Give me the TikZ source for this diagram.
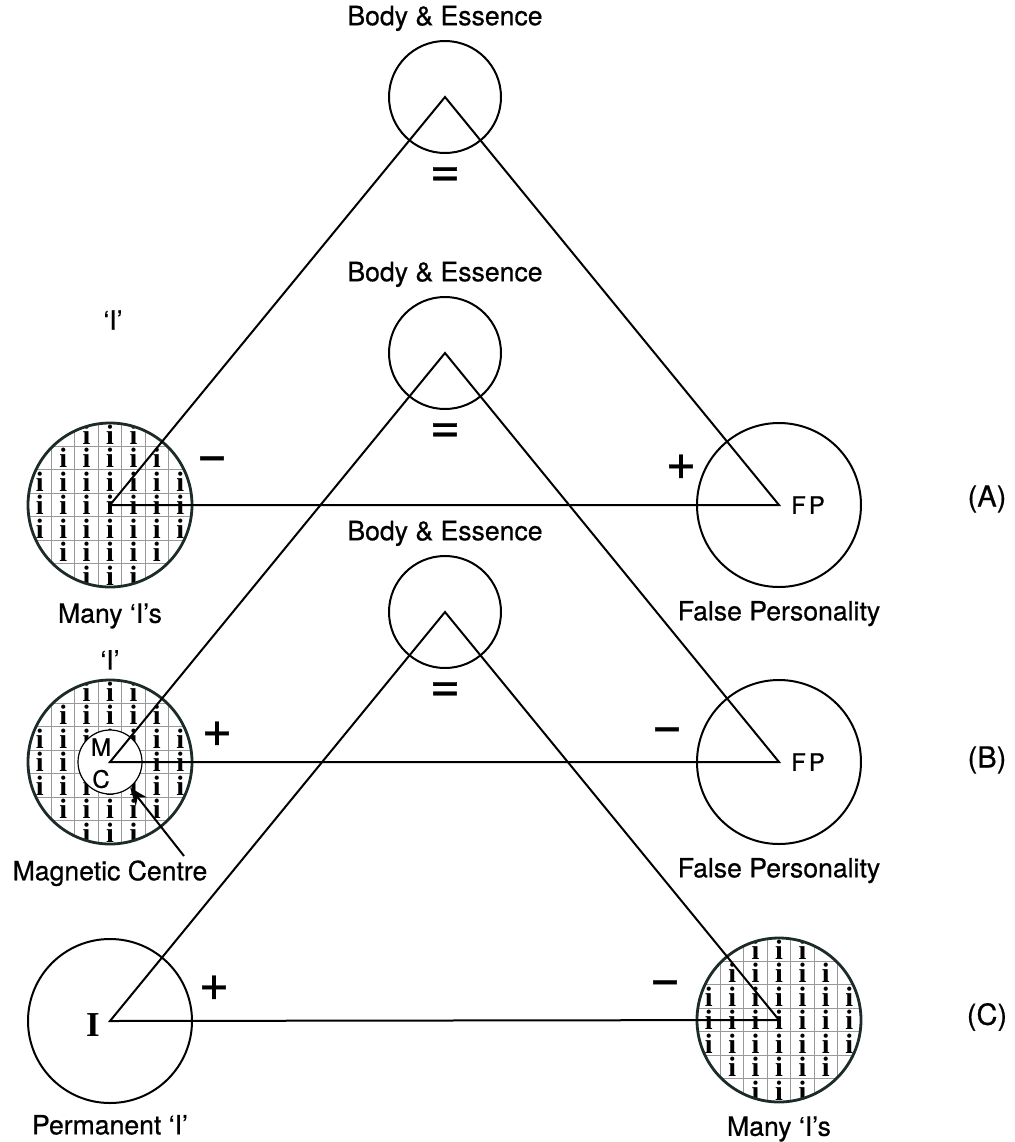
\documentclass[tikz,border=0pt]{standalone}
\usepackage{fontspec}
\setmainfont{TeX Gyre Heros}[UprightFeatures={FakeBold=0.6}]
\newfontfamily\serifi{Liberation Serif}
\usetikzlibrary{positioning, arrows.meta}

\begin{document}
\begin{tikzpicture}[x=0.5pt, y=-0.5pt, line width=1pt,
    lab/.style={font=\fontsize{13.3}{16}\selectfont, inner sep=1pt},
    tag/.style={font=\fontsize{14.5}{17}\selectfont, inner sep=1pt},
    sign/.style={font=\fontsize{26}{26}\selectfont, inner sep=0pt},
    small/.style={font=\fontsize{12}{13}\selectfont, inner sep=0pt},
    bigc/.style={circle, draw, minimum size=82pt, inner sep=0pt},
    gridc/.style={bigc, line width=1.4pt, draw={rgb,255:red,28;green,42;blue,42}},
    topc/.style={circle, draw, minimum size=56pt, inner sep=0pt},
    gridI/.pic={
      \begin{scope}
        \clip (0,0) circle[radius=82];
        \foreach \k in {1,...,6} {
          \draw[gray!80, line width=0.5pt] (-82+\k*23.43,-82) -- ++(0,164);
          \draw[gray!80, line width=0.5pt] (-82,-82+\k*23.43) -- ++(164,0);
        }
        \foreach \r/\a/\b in {0/2/4,1/1/5,2/0/6,3/0/6,4/0/6,5/1/5,6/2/4}
          \foreach \c in {\a,...,\b}
            \node[font=\serifi\bfseries\fontsize{14}{14}\selectfont, inner sep=0pt]
              at ({(\c-3)*23.43},{(\r-3)*23.43}) {i};
      \end{scope}
    }]
  \useasboundingbox (0,0) rectangle (1015,1142);

  % Triangolo A
  \node[topc] (TA) at (445,97) {};
  \node[lab, above=3pt of TA] (bodyA) {Body \& Essence};
  \pic at (110,505) {gridI};
  \node[gridc] (LA) at (110,505) {};
  \node[bigc] (RA) at (779,505) {};
  \node[lab] (iA) at (113,320) {‘I’};
  \node[lab, below=6pt of LA] (manyA) {Many ‘I’s};
  \node[lab, below=5pt of RA] (fpA) {False Personality};
  \node[small] (fpsA) at (808,505) {F\kern1.5pt P};
  \node[sign] (eqA) at (445,177) {=};
  \node[sign] (minusA) at (212,464) {−};
  \node[sign] (plusA) at (681,467) {+};
  \node[tag] (tagA) at (987,499) {(A)};

  % Triangolo B
  \node[topc] (TB) at (445,353) {};
  \node[lab, above=3pt of TB] (bodyB) {Body \& Essence};
  \pic at (110,762) {gridI};
  \node[gridc] (LB) at (110,762) {};
  \node[circle, draw, fill=white, line width=0.6pt, minimum size=32pt, inner sep=0pt] (MC) at (110,762) {};
  \node[small] (mcM) at (101,747) {M};
  \node[small] (mcC) at (101,779) {C};
  \node[bigc] (RB) at (779,762) {};
  \node[lab, above=3pt of LB] (iB) {‘I’};
  \node[lab, below=6pt of LB] (mcLab) {Magnetic Centre};
  \node[lab, below=5pt of RB] (fpB) {False Personality};
  \node[small] (fpsB) at (808,762) {F\kern1.5pt P};
  \node[sign] (eqB) at (445,433) {=};
  \node[sign] (plusB) at (217,734) {+};
  \node[sign] (minusB) at (667,735) {−};
  \node[tag] (tagB) at (987,760) {(B)};
  \coordinate (mcTail) at (184,856);
  \draw[-{Stealth[length=9pt, width=7pt]}] (mcTail) -- (MC);

  % Triangolo C
  \node[topc] (TC) at (445,612) {};
  \node[lab, above=3pt of TC] (bodyC) {Body \& Essence};
  \node[bigc] (LC) at (110,1021) {};
  \node[font=\serifi\bfseries\fontsize{17.5}{18}\selectfont, inner sep=0pt] (permI) at (93,1025) {I};
  \pic at (779,1020) {gridI};
  \node[gridc] (RC) at (779,1020) {};
  \node[lab, below=4pt of LC] (permLab) {Permanent ‘I’};
  \node[lab, below=5pt of RC] (manyC) {Many ‘I’s};
  \node[sign] (eqC) at (445,692) {=};
  \node[sign] (plusC) at (214,988) {+};
  \node[sign] (minusC) at (665,988) {−};
  \node[tag] (tagC) at (987,1017) {(C)};

  % Lati dei triangoli
  \draw (TA.center) -- (LA.center) -- (RA.center) -- cycle;
  \draw (TB.center) -- (LB.center) -- (RB.center) -- cycle;
  \draw (TC.center) -- (LC.center) -- (RC.center) -- cycle;

\end{tikzpicture}
\end{document}
